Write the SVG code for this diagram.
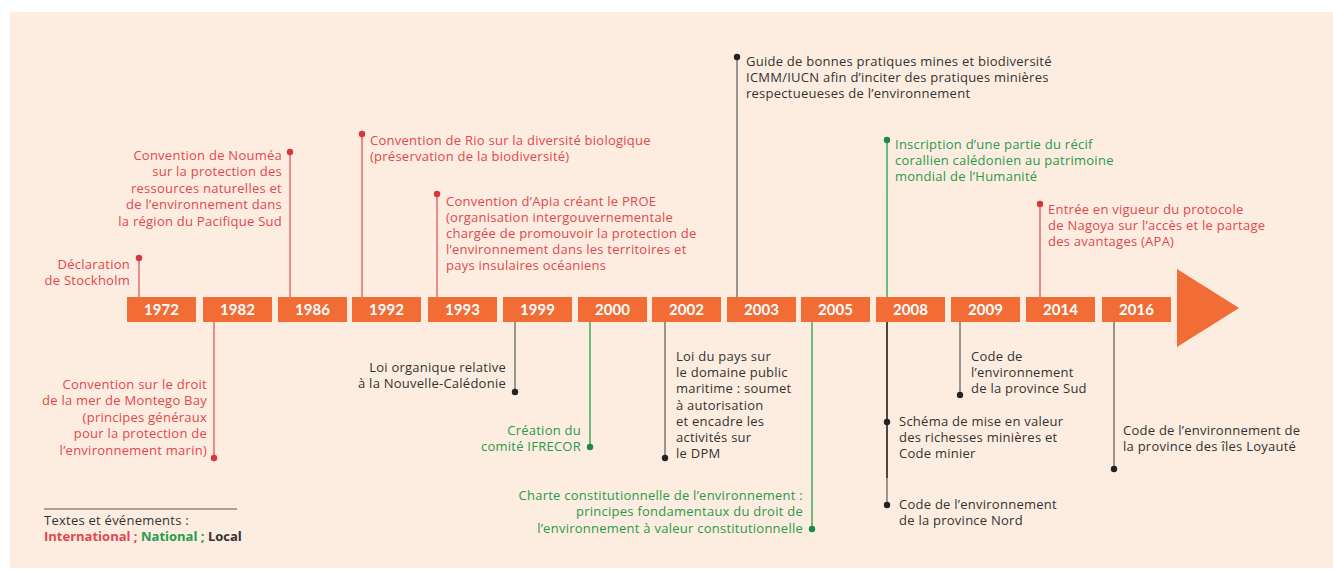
<svg xmlns="http://www.w3.org/2000/svg" width="1333" height="570" viewBox="0 0 1333 570">
<style>
.bg{fill:#FDEDE0}
.yr rect{fill:#F26C36}
.yr text{fill:#FFFFFF;font-family:Lato,"Liberation Sans",sans-serif;font-weight:700;font-size:15px;text-anchor:middle;letter-spacing:0}
text{font-family:"Open Sans","Liberation Sans",sans-serif;font-size:13px;letter-spacing:0.25px}
.int{fill:#E2474E}
.nat{fill:#2A9A4C}
.loc{fill:#333333}
.r{text-anchor:end}
.li{stroke:#E06A6E;stroke-width:1.5}
.ln{stroke:#3FA861;stroke-width:1.5}
.ll{stroke:#777777;stroke-width:1.5}
.di{fill:#D8363C}
.dn{fill:#1C8A43}
.dl{fill:#222222}
</style>
<rect class="bg" x="10" y="12" width="1323" height="556"/>

<g id="connectors">
<line class="li" x1="139" y1="258" x2="139" y2="297"/>
<line class="li" x1="290" y1="152" x2="290" y2="297"/>
<line class="li" x1="362" y1="134" x2="362" y2="297"/>
<line class="li" x1="437" y1="194" x2="437" y2="297"/>
<line class="ll" x1="737" y1="57" x2="737" y2="297"/>
<line class="ln" x1="887" y1="140" x2="887" y2="297"/>
<line class="li" x1="1040" y1="204" x2="1040" y2="297"/>
<line class="li" x1="214" y1="322" x2="214" y2="458"/>
<line class="ll" x1="515" y1="322" x2="515" y2="392"/>
<line class="ln" x1="590" y1="322" x2="590" y2="447"/>
<line class="ll" x1="665" y1="322" x2="665" y2="458"/>
<line class="ln" x1="812" y1="322" x2="812" y2="529"/>
<line class="ll" x1="887" y1="322" x2="887" y2="505"/>
<line x1="887" y1="322" x2="887" y2="478" stroke="#3A2B2B" stroke-width="1.5"/>
<line class="ll" x1="960" y1="322" x2="960" y2="395"/>
<line class="ll" x1="1114" y1="322" x2="1114" y2="469"/>
</g>

<g id="timeline">
<g class="yr" id="y1972"><rect x="127" y="297" width="69" height="25"/><text x="161.5" y="315">1972</text></g>
<g class="yr" id="y1982"><rect x="203" y="297" width="69" height="25"/><text x="237.5" y="315">1982</text></g>
<g class="yr" id="y1986"><rect x="278" y="297" width="69" height="25"/><text x="312.5" y="315">1986</text></g>
<g class="yr" id="y1992"><rect x="352" y="297" width="69" height="25"/><text x="386.5" y="315">1992</text></g>
<g class="yr" id="y1993"><rect x="428" y="297" width="69" height="25"/><text x="462.5" y="315">1993</text></g>
<g class="yr" id="y1999"><rect x="503" y="297" width="69" height="25"/><text x="537.5" y="315">1999</text></g>
<g class="yr" id="y2000"><rect x="578" y="297" width="69" height="25"/><text x="612.5" y="315">2000</text></g>
<g class="yr" id="y2002"><rect x="652" y="297" width="69" height="25"/><text x="686.5" y="315">2002</text></g>
<g class="yr" id="y2003"><rect x="727" y="297" width="69" height="25"/><text x="761.5" y="315">2003</text></g>
<g class="yr" id="y2005"><rect x="801" y="297" width="69" height="25"/><text x="835.5" y="315">2005</text></g>
<g class="yr" id="y2008"><rect x="876" y="297" width="69" height="25"/><text x="910.5" y="315">2008</text></g>
<g class="yr" id="y2009"><rect x="951" y="297" width="69" height="25"/><text x="985.5" y="315">2009</text></g>
<g class="yr" id="y2014"><rect x="1026" y="297" width="69" height="25"/><text x="1060.5" y="315">2014</text></g>
<g class="yr" id="y2016"><rect x="1102" y="297" width="69" height="25"/><text x="1136.5" y="315">2016</text></g>
<polygon id="arrow" points="1177,269 1239,308 1177,347" fill="#F26C36"/>
</g>

<g id="e1972"><circle class="di" cx="139" cy="258" r="3.2"/>
<text class="int r" x="130"><tspan x="130" y="269">Déclaration</tspan><tspan x="130" y="285">de Stockholm</tspan></text></g>

<g id="e1986"><circle class="di" cx="290" cy="152" r="3.2"/>
<text class="int r" x="282"><tspan x="282" y="160">Convention de Nouméa</tspan><tspan x="282" y="176.4">sur la protection des</tspan><tspan x="282" y="192.8">ressources naturelles et</tspan><tspan x="282" y="209.2">de l’environnement dans</tspan><tspan x="282" y="225.6">la région du Pacifique Sud</tspan></text></g>

<g id="e1992"><circle class="di" cx="362" cy="134" r="3.2"/>
<text class="int" x="370"><tspan x="370" y="145">Convention de Rio sur la diversité biologique</tspan><tspan x="370" y="161">(préservation de la biodiversité)</tspan></text></g>

<g id="e1993"><circle class="di" cx="437" cy="194" r="3.2"/>
<text class="int" x="446"><tspan x="446" y="206">Convention d’Apia créant le PROE</tspan><tspan x="446" y="222">(organisation intergouvernementale</tspan><tspan x="446" y="238">chargée de promouvoir la protection de</tspan><tspan x="446" y="254">l’environnement dans les territoires et</tspan><tspan x="446" y="270">pays insulaires océaniens</tspan></text></g>

<g id="e2003"><circle class="dl" cx="737" cy="57" r="3.2"/>
<text class="loc" x="746"><tspan x="746" y="66">Guide de bonnes pratiques mines et biodiversité</tspan><tspan x="746" y="82">ICMM/IUCN afin d’inciter des pratiques minières</tspan><tspan x="746" y="98">respectueueses de l’environnement</tspan></text></g>

<g id="e2008a"><circle class="dn" cx="887" cy="140" r="3.2"/>
<text class="nat" x="895"><tspan x="895" y="149">Inscription d’une partie du récif</tspan><tspan x="895" y="165">corallien calédonien au patrimoine</tspan><tspan x="895" y="181">mondial de l’Humanité</tspan></text></g>

<g id="e2014"><circle class="di" cx="1040" cy="204" r="3.2"/>
<text class="int" x="1048"><tspan x="1048" y="214">Entrée en vigueur du protocole</tspan><tspan x="1048" y="230">de Nagoya sur l’accès et le partage</tspan><tspan x="1048" y="246">des avantages (APA)</tspan></text></g>

<g id="e1982"><circle class="di" cx="214" cy="458" r="3.2"/>
<text class="int r" x="207"><tspan x="207" y="389">Convention sur le droit</tspan><tspan x="207" y="405.4">de la mer de Montego Bay</tspan><tspan x="207" y="421.8">(principes généraux</tspan><tspan x="207" y="438.2">pour la protection de</tspan><tspan x="207" y="454.6">l’environnement marin)</tspan></text></g>

<g id="e1999"><circle class="dl" cx="515" cy="392" r="3.2"/>
<text class="loc r" x="506"><tspan x="506" y="372">Loi organique relative</tspan><tspan x="506" y="388">à la Nouvelle-Calédonie</tspan></text></g>

<g id="e2000"><circle class="dn" cx="590" cy="447" r="3.2"/>
<text class="nat r" x="581"><tspan x="581" y="435">Création du</tspan><tspan x="581" y="451">comité IFRECOR</tspan></text></g>

<g id="e2002"><circle class="dl" cx="665" cy="458" r="3.2"/>
<text class="loc" x="676"><tspan x="676" y="361">Loi du pays sur</tspan><tspan x="676" y="377.2">le domaine public</tspan><tspan x="676" y="393.4">maritime : soumet</tspan><tspan x="676" y="409.6">à autorisation</tspan><tspan x="676" y="425.8">et encadre les</tspan><tspan x="676" y="442">activités sur</tspan><tspan x="676" y="458.2">le DPM</tspan></text></g>

<g id="e2005"><circle class="dn" cx="812" cy="529" r="3.2"/>
<text class="nat r" x="803"><tspan x="803" y="499.5">Charte constitutionnelle de l’environnement :</tspan><tspan x="803" y="516">principes fondamentaux du droit de</tspan><tspan x="803" y="532.5">l’environnement à valeur constitutionnelle</tspan></text></g>

<g id="e2008b"><circle class="dl" cx="887" cy="422" r="3.2"/>
<text class="loc" x="899"><tspan x="899" y="426">Schéma de mise en valeur</tspan><tspan x="899" y="442">des richesses minières et</tspan><tspan x="899" y="458">Code minier</tspan></text></g>

<g id="e2008c"><circle class="dl" cx="887" cy="505" r="3.2"/>
<text class="loc" x="899"><tspan x="899" y="508.5">Code de l’environnement</tspan><tspan x="899" y="524.5">de la province Nord</tspan></text></g>

<g id="e2009"><circle class="dl" cx="960" cy="395" r="3.2"/>
<text class="loc" x="971"><tspan x="971" y="361">Code de</tspan><tspan x="971" y="377">l’environnement</tspan><tspan x="971" y="393">de la province Sud</tspan></text></g>

<g id="e2016"><circle class="dl" cx="1114" cy="469" r="3.2"/>
<text class="loc" x="1123"><tspan x="1123" y="434.5">Code de l’environnement de</tspan><tspan x="1123" y="450.5">la province des îles Loyauté</tspan></text></g>

<g id="legend">
<line x1="44" y1="509" x2="237" y2="509" stroke="#555555" stroke-width="1"/>
<text class="loc" x="44" y="525">Textes et événements :</text>
<text x="44" y="541" font-weight="700" style="letter-spacing:0"><tspan class="int">International ; </tspan><tspan class="nat">National ; </tspan><tspan class="loc">Local</tspan></text>
</g>
</svg>
